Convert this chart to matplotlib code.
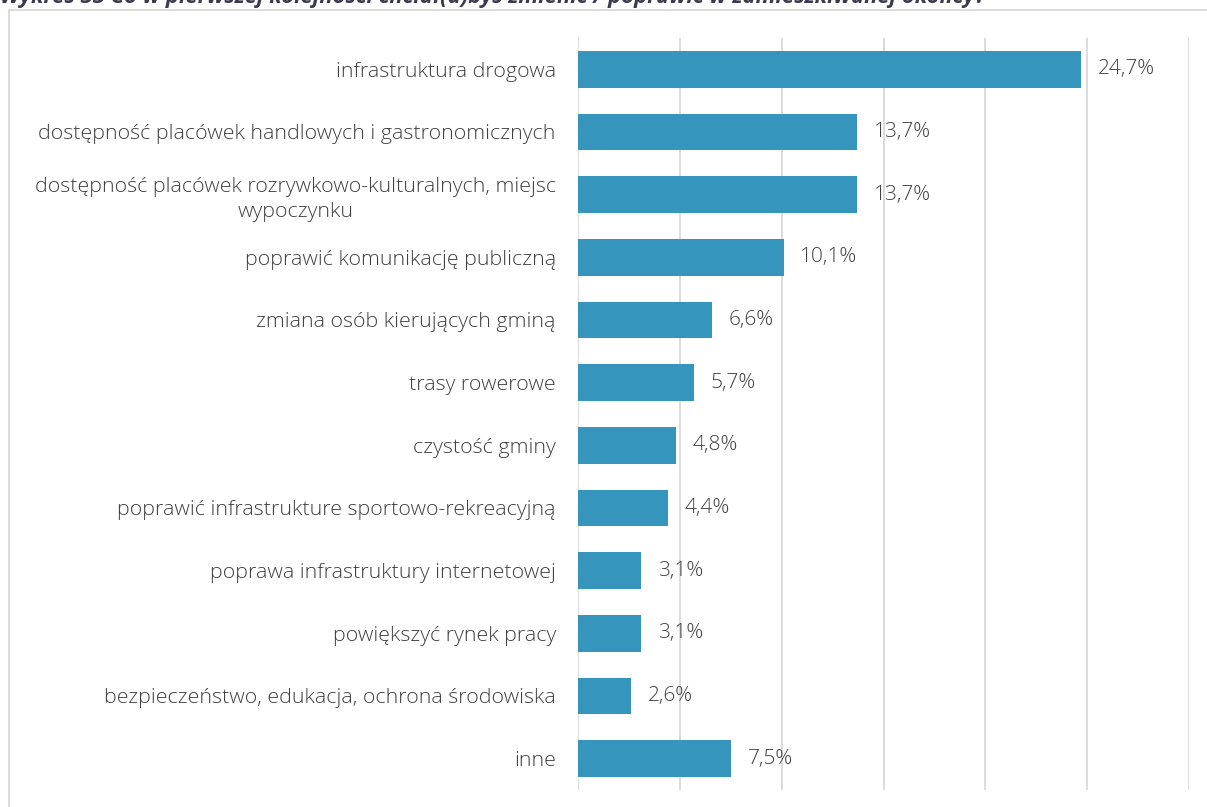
import matplotlib
matplotlib.use("Agg")
import matplotlib.pyplot as plt
from matplotlib.patches import Rectangle

categories = [
    "infrastruktura drogowa",
    "dostępność placówek handlowych i gastronomicznych",
    "dostępność placówek rozrywkowo-kulturalnych, miejsc\nwypoczynku",
    "poprawić komunikację publiczną",
    "zmiana osób kierujących gminą",
    "trasy rowerowe",
    "czystość gminy",
    "poprawić infrastrukture sportowo-rekreacyjną",
    "poprawa infrastruktury internetowej",
    "powiększyć rynek pracy",
    "bezpieczeństwo, edukacja, ochrona środowiska",
    "inne",
]
values = [24.7, 13.7, 13.7, 10.1, 6.6, 5.7, 4.8, 4.4, 3.1, 3.1, 2.6, 7.5]
title = "Wykres 33 Co w pierwszej kolejności chciał(a)byś zmienić / poprawić w zamieszkiwanej okolicy?"

plt.rcParams["font.family"] = ["Open Sans", "DejaVu Sans"]

fig = plt.figure(figsize=(12.07, 8.07), dpi=100)
ax = fig.add_axes([578 / 1207, 17 / 807, 611 / 1207, 752 / 807])

bar_color = "#3695bd"
text_color = "#404040"
ypos = list(range(len(categories)))
ax.barh(ypos, values, height=0.59, color=bar_color, zorder=3)
ax.set_ylim(len(categories) - 0.5, -0.5)
ax.set_xlim(0, 30)
ax.set_xticks([0, 5, 10, 15, 20, 25, 30])
ax.xaxis.grid(True, color="#d9d9d9", linewidth=1.3, zorder=0)
ax.tick_params(axis="x", length=0, labelbottom=False)
ax.tick_params(axis="y", length=0, pad=16)
ax.set_yticks(ypos)
ax.set_yticklabels(categories, fontsize=15.4, color=text_color,
                   multialignment="center", linespacing=1.35,
                   fontweight="light")
for s in ax.spines.values():
    s.set_visible(False)

for y, v in zip(ypos, values):
    label = f"{v:.1f}".replace(".", ",") + "%"
    ax.annotate(label, xy=(v, y), xytext=(12, 0), textcoords="offset points",
                va="center", ha="left", fontsize=15, color=text_color,
                fontweight="light")

# outer frame of the chart area
fig.patches.append(Rectangle((9 / 1207, -0.05), 1.2, 1 - 10 / 807 + 0.05,
                             transform=fig.transFigure, fill=False,
                             edgecolor="#d9d9d9", linewidth=1.3))

fig.text(0.0, 1 - 3 / 807, title, ha="left", va="baseline",
         fontsize=15.8, fontstyle="italic", fontweight="bold", color="#3b3b4f")

fig.savefig("out.png", dpi=100)
